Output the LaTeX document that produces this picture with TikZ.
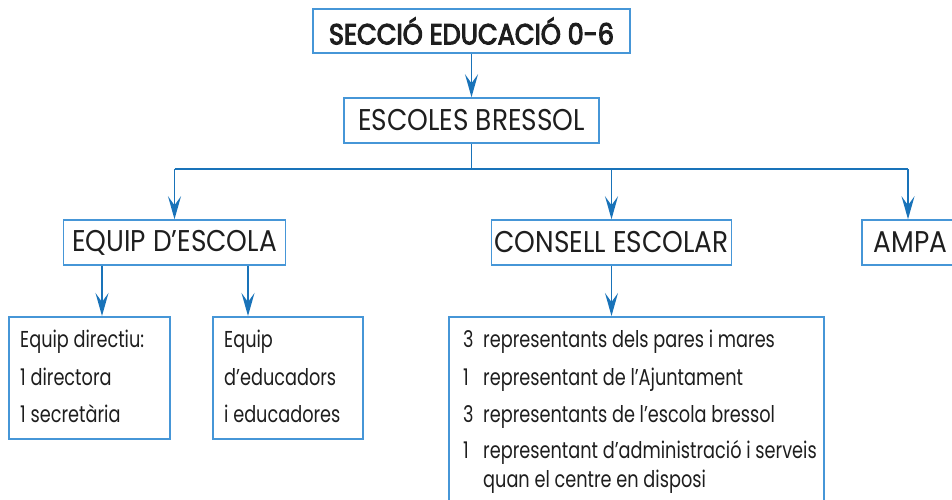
\documentclass[tikz,border=0pt]{standalone}
\usepackage{fontspec}
\setmainfont{Poppins}[FakeStretch=0.77]
\newfontfamily\headfont{Poppins}[FakeStretch=0.88]
\newfontfamily\boldhead{Poppins}[FakeStretch=0.88, FakeBold=3.5]
\usetikzlibrary{arrows.meta}
\definecolor{boxblue}{RGB}{70,150,215}
\definecolor{arrblue}{RGB}{25,115,185}
\definecolor{txt}{RGB}{30,30,30}
\tikzset{
  box/.style={draw=boxblue, line width=1.5pt, rectangle, inner sep=0pt, text=txt},
  arr/.style={draw=arrblue, line width=1.4pt, -{Stealth[length=23pt, width=13pt, inset=9pt]}},
  ln/.style={draw=arrblue, line width=1.4pt},
  big/.style={font=\headfont\fontsize{30}{34}\selectfont},
  body/.style={anchor=base west, inner sep=0pt, text=txt, font=\fontsize{23}{27}\selectfont},
}
\begin{document}
\begin{tikzpicture}[x=1pt, y=-1pt]
\useasboundingbox (0,0) rectangle (952,500);
% boxes
\node[box, minimum width=317pt, minimum height=44pt, font=\boldhead\fontsize{29}{33}\selectfont] (sec) at (471.5,31) {SECCIÓ EDUCACIÓ 0-6};
\node[box, big, minimum width=255pt, minimum height=45pt] (esc) at (471.5,120.5) {ESCOLES BRESSOL};
\node[box, big, minimum width=222pt, minimum height=45pt] (eq) at (174.5,242.5) {EQUIP D’ESCOLA};
\node[box, big, minimum width=240pt, minimum height=45pt] (con) at (611.5,242.5) {CONSELL ESCOLAR};
\node[box, big, anchor=west, minimum height=45pt, text width=130pt, align=left, inner xsep=12pt] (ampa) at (861,242.5) {AMPA};
\node[box, anchor=north west, minimum width=161pt, minimum height=122pt] (dir) at (8,316) {};
\node[box, anchor=north west, minimum width=150pt, minimum height=122pt] (edu) at (212,316) {};
\node[box, anchor=north west, minimum width=375pt, minimum height=220pt] (rep) at (448,316) {};
% texts
\node[body] (d1) at (20,347) {Equip directiu:};
\node[body] (d2) at (20,385) {1 directora};
\node[body] (d3) at (20,422) {1 secretària};
\node[body] (e1) at (224,347) {Equip};
\node[body] (e2) at (224,385) {d’educadors};
\node[body] (e3) at (224,422) {i educadores};
\node[body] (n1) at (463,347) {3};
\node[body] (n2) at (463,385) {1};
\node[body] (n3) at (463,422) {3};
\node[body] (n4) at (463,458) {1};
\node[body] (r1) at (483,347) {representants dels pares i mares};
\node[body] (r2) at (483,385) {representant de l’Ajuntament};
\node[body] (r3) at (483,422) {representants de l’escola bressol};
\node[body] (r4) at (483,458) {representant d’administració i serveis};
\node[body] (r5) at (483,487) {quan el centre en disposi};
% connectors
\coordinate (jl) at (174.5,169);
\coordinate (jm) at (611.5,169);
\coordinate (ja) at (908,169);
\draw[arr] (sec.south) -- (esc.north);
\draw[ln] (esc.south) -- (esc.south |- jl);
\draw[ln] (jl) -- (ja);
\draw[arr] (jl) -- (jl |- eq.north);
\draw[arr] (jm) -- (jm |- con.north);
\draw[arr] (ja) -- (ja |- ampa.north);
\draw[arr] (eq.south -| 102,0) -- (dir.north -| 102,0);
\draw[arr] (eq.south -| 248,0) -- (edu.north -| 248,0);
\draw[arr] (con.south) -- (rep.north -| con.south);
\end{tikzpicture}
\end{document}
